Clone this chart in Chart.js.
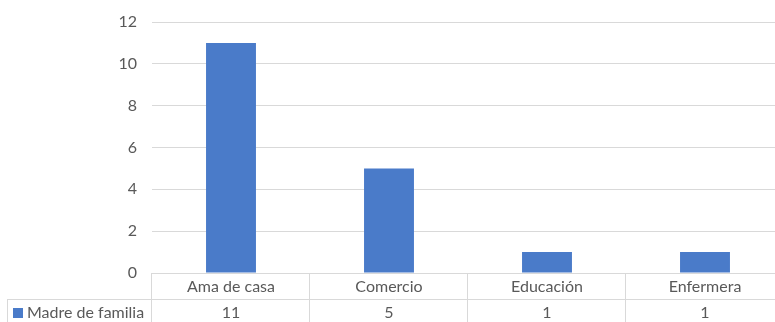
<!DOCTYPE html>
<html>
<head>
<meta charset="utf-8">
<script src="https://cdn.jsdelivr.net/npm/chart.js@4.4.0/dist/chart.umd.min.js"></script>
<style>
  html, body { margin: 0; padding: 0; background: #fff; overflow: hidden; }
  #wrap { width: 775px; height: 322px; overflow: hidden; }
</style>
</head>
<body>
<!-- el lienzo es un poco mas ancho que la ventana, la ultima columna queda recortada -->
<div id="wrap"><canvas id="grafica" width="784" height="322"></canvas></div>
<script>
// datos de la grafica
const categorias = ['Ama de casa', 'Comercio', 'Educación', 'Enfermera']
const madreFamilia = [11, 5, 1, 1]
const serieNombre = 'Madre de familia'
const ticksY = [0, 2, 4, 6, 8, 10, 12]

const azul = '#4a7bc9'
const gris = '#d9d9d9'
const texto = '#595959'
const fuente = 'Lato, "Liberation Sans", sans-serif'

// tabla de datos debajo del eje x (encabezados + fila de la serie)
const tablaDatos = {
    id: 'tablaDatos',
    afterDraw(chart) {
        const ctx = chart.ctx
        const x = chart.scales.x
        const area = chart.chartArea
        const n = categorias.length
        const ancho = (area.right - area.left) / n
        const fila1 = area.bottom
        const fila2 = fila1 + 26
        const fin = chart.height + 1
        const izq = 7

        ctx.save()
        ctx.strokeStyle = gris
        ctx.lineWidth = 1
        ctx.beginPath()
        // lineas horizontales
        ctx.moveTo(area.left, fila1 + 0.5); ctx.lineTo(area.right, fila1 + 0.5)
        ctx.moveTo(izq, fila2 + 0.5); ctx.lineTo(area.right, fila2 + 0.5)
        // lineas verticales
        ctx.moveTo(izq + 0.5, fila2); ctx.lineTo(izq + 0.5, fin)
        for (let i = 0; i <= n; i++) {
            const xi = Math.round(area.left + ancho * i) - 0.5
            ctx.moveTo(xi, fila1); ctx.lineTo(xi, fin)
        }
        ctx.stroke()

        ctx.fillStyle = texto
        ctx.font = '16px ' + fuente
        ctx.textAlign = 'center'
        ctx.textBaseline = 'middle'
        categorias.forEach(function (c, i) {
            const cx = x.getPixelForValue(i)
            ctx.fillText(c, cx, fila1 + 14)
            ctx.fillText(String(madreFamilia[i]), cx, fila2 + 14)
        })

        // clave de la serie
        ctx.fillStyle = azul
        ctx.fillRect(13, fila2 + 9, 10, 10)
        ctx.fillStyle = texto
        ctx.textAlign = 'left'
        ctx.fillText(serieNombre, 27, fila2 + 14)
        ctx.restore()
    }
}

const canvas = document.querySelector('#grafica')
const chart = new Chart(canvas.getContext('2d'), {
    type: 'bar',
    data: {
        labels: categorias,
        datasets: [{
            label: serieNombre,
            data: madreFamilia,
            backgroundColor: azul,
            borderWidth: 0,
            categoryPercentage: 1,
            barPercentage: 0.316
        }]
    },
    options: {
        responsive: false,
        animation: false,
        layout: { padding: { top: 22, right: 0, bottom: 49, left: 0 } },
        plugins: {
            legend: { display: false },
            tooltip: { enabled: false }
        },
        scales: {
            x: {
                display: false
            },
            y: {
                min: 0,
                max: 12,
                afterBuildTicks(scale) {
                    scale.ticks = ticksY.map(function (v) { return { value: v } })
                },
                afterFit(scale) {
                    scale.width = 152
                    scale.paddingTop = 0
                    scale.paddingBottom = 0
                },
                border: { display: false },
                grid: { color: gris, drawTicks: false },
                ticks: {
                    color: texto,
                    padding: 15,
                    font: { family: fuente, size: 16 }
                }
            }
        }
    },
    plugins: [tablaDatos]
})
</script>
</body>
</html>
